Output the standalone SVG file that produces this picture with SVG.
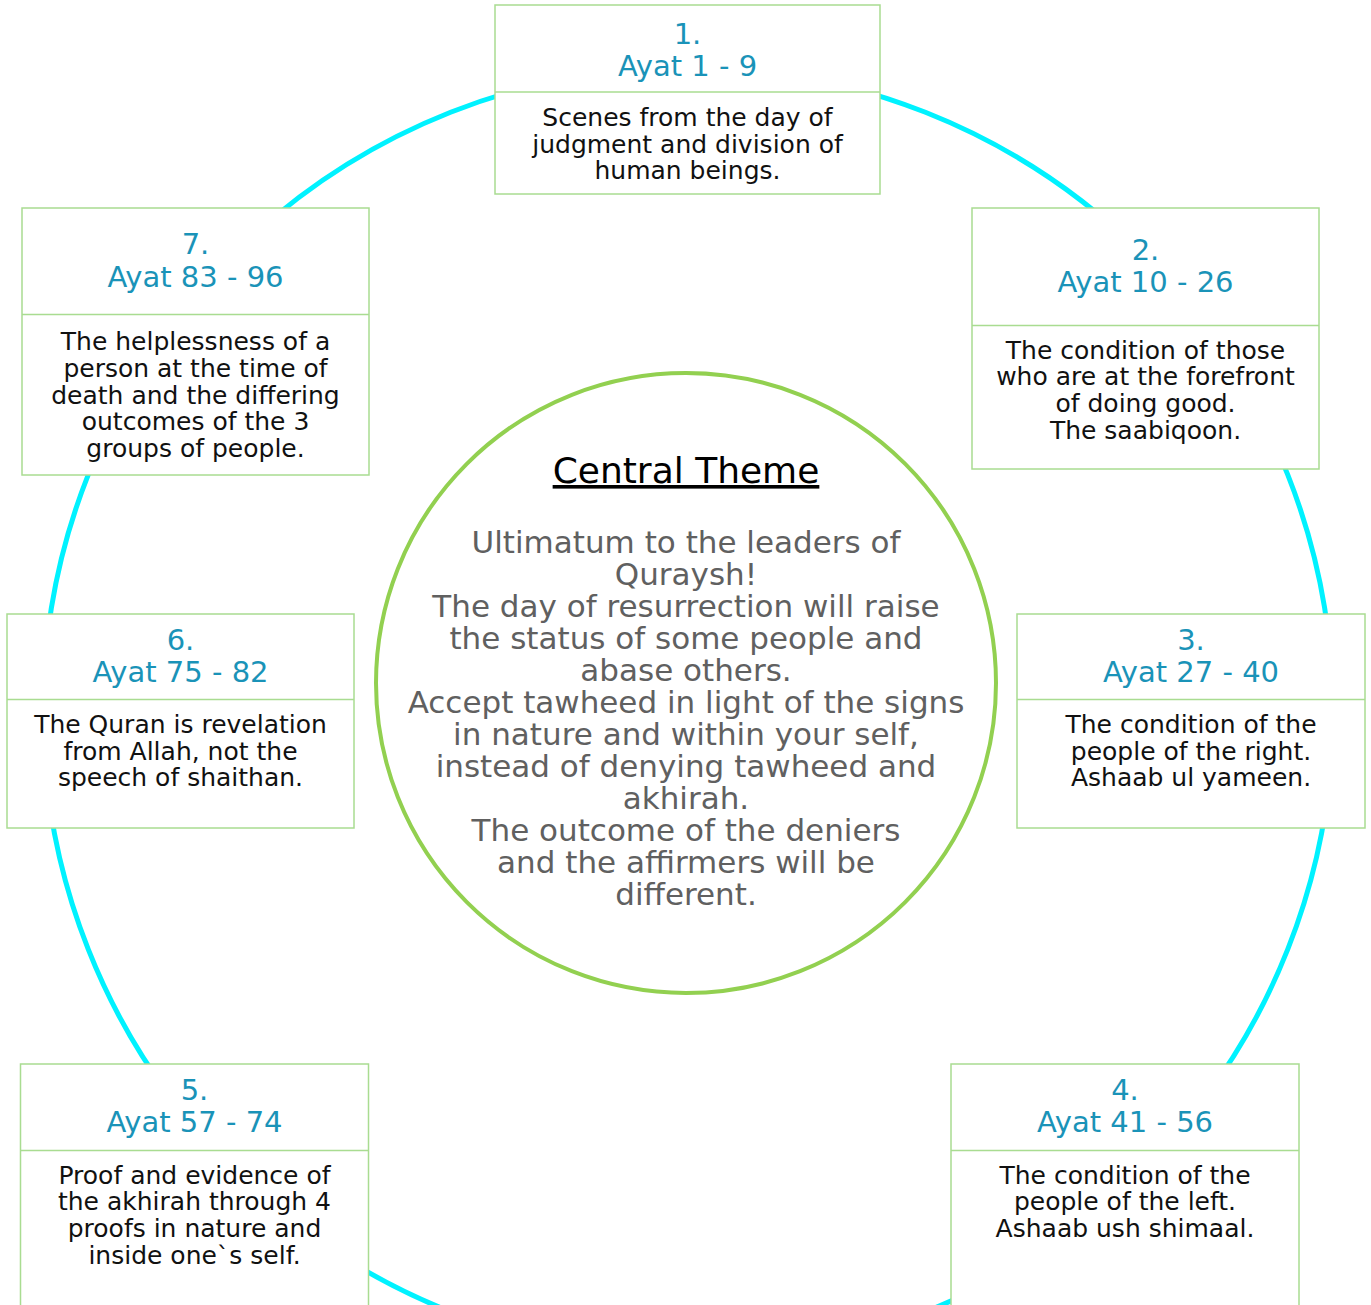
<svg xmlns="http://www.w3.org/2000/svg" width="1371" height="1305" viewBox="0 0 1371 1305">
<style>
.box{fill:#fff;stroke:#a9dc91;stroke-width:1.5}
.div{stroke:#a9dc91;stroke-width:1.5}
.hd{font-family:"DejaVu Sans",sans-serif;font-size:29px;fill:#1a93b8;text-anchor:middle}
.bd{font-family:"DejaVu Sans",sans-serif;font-size:25px;fill:#111;text-anchor:middle}
.ct{font-family:"DejaVu Sans",sans-serif;font-size:36px;fill:#000;text-anchor:middle;text-decoration:underline}
.cb{font-family:"DejaVu Sans",sans-serif;font-size:31px;fill:#606060;text-anchor:middle}
</style>
<rect width="1371" height="1305" fill="#fff"/>
<g id="connectors">
<circle cx="688" cy="712" r="645" fill="none" stroke="#00f2ff" stroke-width="5"/>
</g>
<g id="central">
<circle cx="686" cy="683" r="310" fill="#fff" stroke="#92d050" stroke-width="4"/>
<text class="ct" x="686" y="483">Central Theme</text>
<text class="cb" x="686" y="553">Ultimatum to the leaders of</text>
<text class="cb" x="686" y="585">Quraysh!</text>
<text class="cb" x="686" y="617">The day of resurrection will raise</text>
<text class="cb" x="686" y="649">the status of some people and</text>
<text class="cb" x="686" y="681">abase others.</text>
<text class="cb" x="686" y="713">Accept tawheed in light of the signs</text>
<text class="cb" x="686" y="745">in nature and within your self,</text>
<text class="cb" x="686" y="777">instead of denying tawheed and</text>
<text class="cb" x="686" y="809">akhirah.</text>
<text class="cb" x="686" y="841">The outcome of the deniers</text>
<text class="cb" x="686" y="873">and the affirmers will be</text>
<text class="cb" x="686" y="905">different.</text>
</g>
<g id="node1">
<rect class="box" x="495" y="5" width="385" height="189"/>
<line class="div" x1="495" y1="92" x2="880" y2="92"/>
<text class="hd" x="687.5" y="44">1.</text>
<text class="hd" x="687.5" y="76">Ayat 1 - 9</text>
<text class="bd" x="687.5" y="126">Scenes from the day of</text>
<text class="bd" x="687.5" y="152.5">judgment and division of</text>
<text class="bd" x="687.5" y="179">human beings.</text>
</g>
<g id="node2">
<rect class="box" x="972" y="208" width="347" height="261"/>
<line class="div" x1="972" y1="325.5" x2="1319" y2="325.5"/>
<text class="hd" x="1145.5" y="260">2.</text>
<text class="hd" x="1145.5" y="292">Ayat 10 - 26</text>
<text class="bd" x="1145.5" y="358.5">The condition of those</text>
<text class="bd" x="1145.5" y="385">who are at the forefront</text>
<text class="bd" x="1145.5" y="412">of doing good.</text>
<text class="bd" x="1145.5" y="439">The saabiqoon.</text>
</g>
<g id="node3">
<rect class="box" x="1017" y="614" width="348" height="214"/>
<line class="div" x1="1017" y1="699.5" x2="1365" y2="699.5"/>
<text class="hd" x="1191" y="650">3.</text>
<text class="hd" x="1191" y="682">Ayat 27 - 40</text>
<text class="bd" x="1191" y="733">The condition of the</text>
<text class="bd" x="1191" y="759.5">people of the right.</text>
<text class="bd" x="1191" y="785.5">Ashaab ul yameen.</text>
</g>
<g id="node4">
<rect class="box" x="951" y="1064" width="348" height="260"/>
<line class="div" x1="951" y1="1150.5" x2="1299" y2="1150.5"/>
<text class="hd" x="1125" y="1100">4.</text>
<text class="hd" x="1125" y="1132">Ayat 41 - 56</text>
<text class="bd" x="1125" y="1183.5">The condition of the</text>
<text class="bd" x="1125" y="1210">people of the left.</text>
<text class="bd" x="1125" y="1237">Ashaab ush shimaal.</text>
</g>
<g id="node5">
<rect class="box" x="20.5" y="1064" width="348" height="260"/>
<line class="div" x1="20.5" y1="1150.5" x2="368.5" y2="1150.5"/>
<text class="hd" x="194.5" y="1100">5.</text>
<text class="hd" x="194.5" y="1132">Ayat 57 - 74</text>
<text class="bd" x="194.5" y="1183.5">Proof and evidence of</text>
<text class="bd" x="194.5" y="1210">the akhirah through 4</text>
<text class="bd" x="194.5" y="1237">proofs in nature and</text>
<text class="bd" x="194.5" y="1263.5">inside one`s self.</text>
</g>
<g id="node6">
<rect class="box" x="7" y="614" width="347" height="214"/>
<line class="div" x1="7" y1="699.5" x2="354" y2="699.5"/>
<text class="hd" x="180.5" y="650">6.</text>
<text class="hd" x="180.5" y="682">Ayat 75 - 82</text>
<text class="bd" x="180.5" y="733">The Quran is revelation</text>
<text class="bd" x="180.5" y="759.5">from Allah, not the</text>
<text class="bd" x="180.5" y="785.5">speech of shaithan.</text>
</g>
<g id="node7">
<rect class="box" x="22" y="208" width="347" height="267"/>
<line class="div" x1="22" y1="314.5" x2="369" y2="314.5"/>
<text class="hd" x="195.5" y="254">7.</text>
<text class="hd" x="195.5" y="287">Ayat 83 - 96</text>
<text class="bd" x="195.5" y="350">The helplessness of a</text>
<text class="bd" x="195.5" y="377">person at the time of</text>
<text class="bd" x="195.5" y="403.5">death and the differing</text>
<text class="bd" x="195.5" y="430">outcomes of the 3</text>
<text class="bd" x="195.5" y="457">groups of people.</text>
</g>
</svg>
